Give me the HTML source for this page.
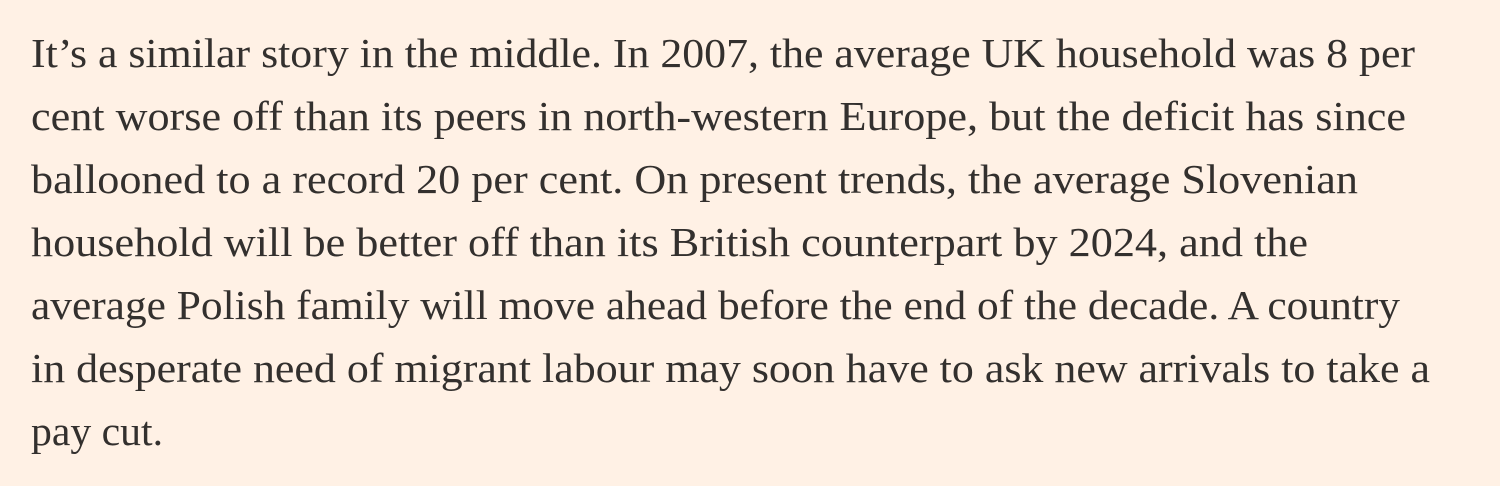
<!DOCTYPE html>
<html><head><meta charset="utf-8"><style>
html,body{margin:0;padding:0;background:#FFF1E5;}
svg{display:block;}
text{font-family:"Liberation Serif",serif;font-size:41px;fill:#33302E;}
</style></head><body>
<svg width="1500" height="486">
<rect width="1500" height="486" fill="#FFF1E5"/>
<text x="31" y="67" textLength="1384" lengthAdjust="spacingAndGlyphs">It’s a similar story in the middle. In 2007, the average UK household was 8 per</text>
<text x="31" y="130" textLength="1375" lengthAdjust="spacingAndGlyphs">cent worse off than its peers in north-western Europe, but the deficit has since</text>
<text x="31" y="193" textLength="1327" lengthAdjust="spacingAndGlyphs">ballooned to a record 20 per cent. On present trends, the average Slovenian</text>
<text x="31" y="256" textLength="1277" lengthAdjust="spacingAndGlyphs">household will be better off than its British counterpart by 2024, and the</text>
<text x="31" y="319" textLength="1369" lengthAdjust="spacingAndGlyphs">average Polish family will move ahead before the end of the decade. A country</text>
<text x="31" y="382" textLength="1399" lengthAdjust="spacingAndGlyphs">in desperate need of migrant labour may soon have to ask new arrivals to take a</text>
<text x="31" y="445" textLength="132" lengthAdjust="spacingAndGlyphs">pay cut.</text>
</svg>
</body></html>
